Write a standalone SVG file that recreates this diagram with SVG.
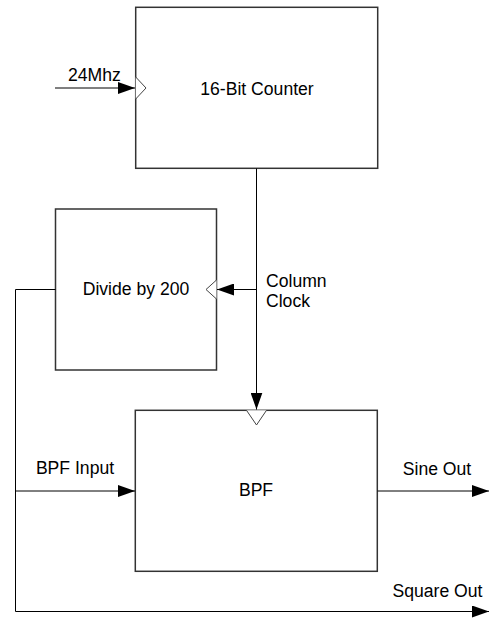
<svg xmlns="http://www.w3.org/2000/svg" width="490" height="618" viewBox="0 0 490 618">
<style>
.box{fill:#fff;stroke:#333;stroke-width:1.5}
.clk{fill:#fff;stroke:#444;stroke-width:1}
.wire{fill:none;stroke:#000;stroke-width:1}
text{font-family:"Liberation Sans",Arial,sans-serif;font-size:17.6px;fill:#000}
.c{text-anchor:middle}
</style>
<defs>
<marker id="ah" markerWidth="17" markerHeight="12" refX="17" refY="6" orient="auto" markerUnits="userSpaceOnUse">
<path d="M0,0 L17,6 L0,12 Z" fill="#000"/>
</marker>
</defs>
<rect width="490" height="618" fill="#fff"/>
<g id="counter">
<rect class="box" x="135.7" y="7.3" width="242" height="161"/>
<path class="clk" d="M135.7,77 L146,88 L135.7,99"/>
<text class="c" x="257" y="95">16-Bit Counter</text>
</g>
<g id="divider">
<rect class="box" x="55.5" y="209" width="161" height="161"/>
<path class="clk" d="M216.5,280 L206,289.5 L216.5,299"/>
<text class="c" x="136" y="295">Divide by 200</text>
</g>
<g id="bpf">
<rect class="box" x="135.3" y="410.3" width="242" height="161"/>
<path class="clk" d="M246.5,410.3 L256.5,425 L266.5,410.3"/>
<text class="c" x="256" y="496">BPF</text>
</g>
<g id="connectors">
<line class="wire" x1="55" y1="88" x2="135" y2="88" marker-end="url(#ah)"/>
<line class="wire" x1="256.5" y1="168.5" x2="256.5" y2="409.5" marker-end="url(#ah)"/>
<line class="wire" x1="256.5" y1="289.5" x2="217" y2="289.5" marker-end="url(#ah)"/>
<polyline class="wire" points="55.5,289.5 15.5,289.5 15.5,611.5 489,611.5" marker-end="url(#ah)"/>
<line class="wire" x1="15.5" y1="491" x2="135" y2="491" marker-end="url(#ah)"/>
<line class="wire" x1="377.5" y1="491" x2="489" y2="491" marker-end="url(#ah)"/>
</g>
<g id="labels">
<text x="68" y="81">24Mhz</text>
<text x="266" y="287">Column</text>
<text x="266" y="307">Clock</text>
<text class="c" x="75" y="474">BPF Input</text>
<text class="c" x="437" y="475">Sine Out</text>
<text class="c" x="437.5" y="597">Square Out</text>
</g>
</svg>
